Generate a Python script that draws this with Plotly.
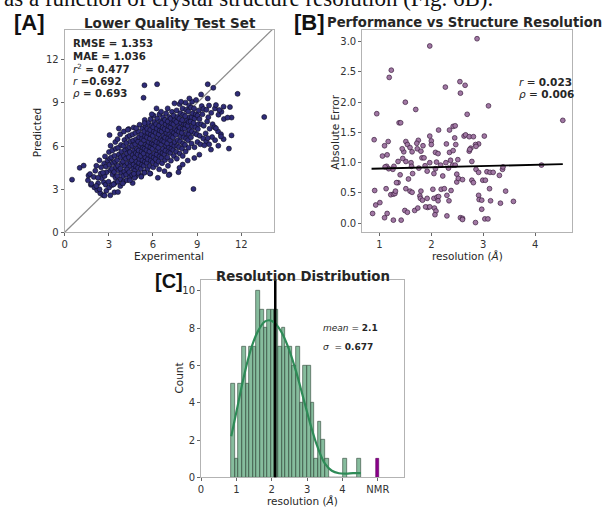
import plotly.graph_objects as go

W, H = 602, 510


def px(x):
    return x / W


def py(y):
    return 1 - y / H


# ---------------- Panel A: Lower Quality Test Set ----------------
a_points = [
    (1.62, 3.95), (1.78, 3.30), (1.72, 4.05), (2.02, 3.12), (2.08, 4.28), (1.98, 3.85), (2.15, 4.62),
    (2.21, 2.92), (2.27, 3.41), (2.42, 2.71), (2.45, 4.08), (2.48, 4.52), (2.36, 5.01), (2.52, 3.75),
    (2.62, 2.58), (2.66, 3.48), (2.71, 3.92), (2.68, 4.79), (2.74, 5.28), (2.83, 2.88), (2.79, 3.31), (2.85, 4.18), (2.81, 4.58), (2.92, 4.98),
    (3.02, 3.12), (2.98, 3.51), (3.11, 4.32), (3.04, 4.69), (3.08, 5.12), (3.01, 5.58), (3.12, 6.02), (3.21, 3.28), (3.25, 4.01), (3.22, 4.41), (3.28, 4.82), (3.17, 5.21), (3.24, 5.69),
    (3.38, 2.78), (3.41, 3.42), (3.45, 3.81), (3.36, 4.19), (3.48, 4.52), (3.42, 4.91), (3.39, 5.32), (3.47, 5.81), (3.44, 6.28), (3.61, 3.51), (3.58, 3.92), (3.65, 4.31), (3.62, 4.63), (3.57, 5.02), (3.68, 5.41), (3.63, 5.88), (3.59, 6.48),
    (3.78, 3.21), (3.82, 3.68), (3.85, 4.12), (3.79, 4.43), (3.88, 4.81), (3.81, 5.22), (3.86, 5.61), (3.83, 6.08), (3.77, 6.82), (4.01, 3.52), (3.98, 3.91), (4.05, 4.22), (4.08, 4.61), (3.96, 4.92), (4.03, 5.31), (4.11, 5.72), (3.99, 6.01), (4.06, 6.42), (4.02, 7.01),
    (4.22, 3.62), (4.18, 4.01), (4.25, 4.38), (4.28, 4.79), (4.16, 5.12), (4.23, 5.48), (4.31, 5.83), (4.19, 6.21), (4.26, 6.62), (4.41, 3.81), (4.38, 4.18), (4.45, 4.62), (4.48, 4.91), (4.36, 5.22), (4.43, 5.58), (4.39, 5.92), (4.47, 6.31), (4.42, 6.72), (4.35, 7.18),
    (4.62, 3.42), (4.58, 3.98), (4.65, 4.41), (4.68, 4.72), (4.56, 5.01), (4.63, 5.38), (4.71, 5.71), (4.59, 6.02), (4.66, 6.38), (4.61, 6.81), (4.69, 7.29), (4.82, 3.88), (4.78, 4.31), (4.85, 4.58), (4.88, 4.92), (4.76, 5.21), (4.83, 5.52), (4.91, 5.81), (4.79, 6.12), (4.86, 6.48), (4.81, 6.91),
    (5.02, 4.11), (4.98, 4.48), (5.05, 4.82), (5.08, 5.11), (4.96, 5.42), (5.03, 5.69), (5.11, 6.02), (4.99, 6.31), (5.06, 6.62), (5.01, 7.02), (5.09, 7.48), (5.21, 3.92), (5.18, 4.41), (5.25, 4.71), (5.28, 5.02), (5.16, 5.31), (5.23, 5.62), (5.31, 5.88), (5.19, 6.18), (5.26, 6.52), (5.21, 6.81), (5.29, 7.22),
    (5.42, 4.18), (5.38, 4.62), (5.45, 4.91), (5.48, 5.22), (5.36, 5.48), (5.43, 5.81), (5.51, 6.12), (5.39, 6.41), (5.46, 6.68), (5.41, 7.02), (5.49, 7.38), (5.44, 7.82), (5.62, 4.41), (5.58, 4.82), (5.65, 5.08), (5.68, 5.41), (5.56, 5.71), (5.63, 6.02), (5.71, 6.28), (5.59, 6.61), (5.66, 6.92), (5.61, 7.21), (5.69, 7.61),
    (5.82, 4.08), (5.78, 4.61), (5.85, 4.98), (5.88, 5.31), (5.76, 5.62), (5.83, 5.91), (5.91, 6.18), (5.79, 6.52), (5.86, 6.81), (5.81, 7.12), (5.89, 7.42), (5.84, 7.88), (6.02, 4.52), (5.98, 4.88), (6.05, 5.22), (6.08, 5.48), (5.96, 5.81), (6.03, 6.12), (6.11, 6.38), (5.99, 6.71), (6.06, 7.02), (6.01, 7.31), (6.09, 7.68), (6.04, 8.12),
    (6.22, 4.71), (6.18, 5.08), (6.25, 5.41), (6.28, 5.72), (6.16, 6.01), (6.23, 6.28), (6.31, 6.61), (6.19, 6.92), (6.26, 7.21), (6.21, 7.52), (6.29, 7.91), (6.42, 4.38), (6.38, 4.92), (6.45, 5.28), (6.48, 5.61), (6.36, 5.88), (6.43, 6.21), (6.51, 6.48), (6.39, 6.82), (6.46, 7.08), (6.41, 7.41), (6.49, 7.72), (6.44, 8.21),
    (6.62, 4.81), (6.58, 5.18), (6.65, 5.52), (6.68, 5.81), (6.56, 6.12), (6.63, 6.38), (6.71, 6.71), (6.59, 7.02), (6.66, 7.28), (6.61, 7.62), (6.69, 8.01), (6.82, 5.02), (6.78, 5.41), (6.85, 5.68), (6.88, 6.02), (6.76, 6.31), (6.83, 6.58), (6.91, 6.92), (6.79, 7.18), (6.86, 7.51), (6.81, 7.82), (6.89, 8.28),
    (7.02, 4.62), (6.98, 5.21), (7.05, 5.58), (7.08, 5.91), (6.96, 6.18), (7.03, 6.52), (7.11, 6.81), (6.99, 7.12), (7.06, 7.38), (7.01, 7.71), (7.09, 8.02), (7.22, 4.98), (7.18, 5.52), (7.25, 5.81), (7.28, 6.12), (7.16, 6.41), (7.23, 6.68), (7.31, 7.02), (7.19, 7.31), (7.26, 7.58), (7.21, 7.92), (7.29, 8.38),
    (7.42, 5.31), (7.38, 5.72), (7.45, 6.02), (7.48, 6.28), (7.36, 6.61), (7.43, 6.92), (7.51, 7.18), (7.39, 7.52), (7.46, 7.81), (7.41, 8.12), (7.62, 5.12), (7.58, 5.61), (7.65, 6.01), (7.68, 6.41), (7.56, 6.78), (7.63, 7.08), (7.71, 7.41), (7.59, 7.68), (7.66, 8.02), (7.61, 8.48),
    (7.82, 5.48), (7.78, 5.92), (7.85, 6.31), (7.88, 6.68), (7.76, 7.01), (7.83, 7.28), (7.91, 7.62), (7.79, 7.91), (7.86, 8.28), (7.81, 8.92), (8.02, 5.31), (7.98, 5.82), (8.05, 6.18), (8.08, 6.61), (7.96, 6.92), (8.03, 7.21), (8.11, 7.52), (7.99, 7.81), (8.06, 8.18), (8.01, 8.62),
    (8.22, 5.62), (8.18, 6.08), (8.25, 6.52), (8.28, 6.88), (8.16, 7.22), (8.23, 7.48), (8.31, 7.81), (8.19, 8.08), (8.26, 8.52), (8.21, 9.02), (8.42, 5.88), (8.38, 6.41), (8.45, 6.82), (8.48, 7.12), (8.36, 7.41), (8.43, 7.68), (8.51, 8.02), (8.39, 8.41), (8.46, 8.81),
    (8.62, 6.18), (8.58, 6.61), (8.65, 7.02), (8.68, 7.38), (8.56, 7.71), (8.63, 8.02), (8.71, 8.28), (8.59, 8.68), (8.66, 9.08), (8.82, 5.92), (8.85, 6.88), (8.88, 7.31), (8.76, 7.61), (8.83, 7.92), (8.91, 8.21), (8.79, 8.62),
    (9.02, 6.28), (8.98, 6.81), (9.05, 7.18), (9.08, 7.52), (9.03, 8.12), (9.11, 8.48), (9.22, 6.12), (9.18, 6.71), (9.28, 7.52), (9.16, 7.88), (9.31, 8.78),
    (9.42, 6.52), (9.45, 7.41), (9.36, 8.21), (9.43, 8.58), (9.62, 6.31), (9.58, 6.88), (9.68, 7.71), (9.63, 8.52),
    (9.82, 6.12), (9.85, 7.21), (9.76, 8.01), (9.81, 8.82), (10.02, 6.62), (10.05, 7.52), (9.96, 8.31),
    (10.22, 6.41), (10.18, 7.31), (10.21, 8.62), (10.42, 7.02), (10.45, 8.18), (10.62, 6.82), (10.65, 8.38), (10.82, 7.88),
    # sparse edge points and outliers
    (5.42, 10.23), (6.28, 10.30), (5.36, 9.36), (9.72, 10.30), (10.10, 10.05), (11.75, 9.63), (13.56, 8.02), (8.75, 3.01),
    (0.50, 3.66), (1.02, 4.48), (1.29, 4.64), (3.05, 6.76), (3.68, 7.22), (6.24, 8.62), (11.34, 7.98), (11.07, 7.98),
    (11.34, 6.74), (11.16, 5.82), (10.80, 6.48), (10.44, 6.02), (10.51, 8.51), (10.80, 8.74), (11.23, 8.71),
    (2.71, 2.55), (3.10, 2.57), (3.62, 2.80), (2.37, 2.99), (4.75, 3.79), (5.42, 4.14), (6.78, 4.25), (7.12, 4.02), (7.80, 4.48),
    (7.07, 3.98), (7.73, 4.18), (6.33, 3.79), (5.79, 4.09), (5.20, 3.86), (4.70, 4.07), (4.43, 3.61), (3.95, 3.40), (3.32, 3.33),
    (9.72, 6.55), (10.28, 7.24), (10.62, 6.67), (9.94, 5.75), (9.49, 6.05), (9.15, 5.40), (8.81, 5.17), (8.36, 4.99), (8.02, 4.71),
    (4.29, 7.13), (4.86, 7.24), (5.42, 7.59), (5.92, 8.21), (6.55, 8.39), (7.00, 8.62), (7.46, 8.97), (7.91, 9.08), (8.47, 9.31),
    (8.93, 9.20), (9.27, 9.59), (9.72, 9.31), (10.28, 8.85), (1.81, 3.38), (2.15, 3.22), (1.58, 3.61), (2.26, 3.79), (2.60, 4.14),
]
a_experimental = [p[0] for p in a_points]
a_predicted = [p[1] for p in a_points]
a_ticks = [0, 3, 6, 9, 12]
a_stats = [
    "<b>RMSE = 1.353</b>",
    "<b>MAE = 1.036</b>",
    "<i>r</i><sup>2</sup><b> = 0.477</b>",
    "<i>r</i><b> =0.692</b>",
    "<i>ρ</i><b> = 0.693</b>",
]

# ---------------- Panel B: Performance vs Structure Resolution ----------------
b_points = [
    (1.97, 2.93), (1.23, 2.53), (1.19, 2.41), (2.27, 2.25), (2.55, 2.34), (2.65, 2.28), (2.56, 2.15), (1.50, 2.00), (0.95, 1.81),
    (1.70, 1.88), (1.38, 1.66), (1.41, 1.66), (2.69, 1.80), (0.90, 1.38), (1.10, 1.28), (1.17, 1.35), (1.06, 1.11), (1.15, 1.13),
    (1.51, 1.35), (1.54, 1.30), (1.59, 1.25), (1.47, 1.18), (1.44, 1.23), (1.63, 1.18), (1.75, 1.37), (1.72, 1.32), (1.73, 1.23),
    (1.80, 1.19), (1.84, 1.28), (1.97, 1.44), (1.82, 1.08), (1.86, 1.08), (2.00, 1.36), (2.00, 1.30), (2.08, 1.17), (2.13, 1.15),
    (2.14, 1.54), (2.29, 1.31), (2.35, 1.54), (2.42, 1.60), (2.46, 1.61), (2.45, 1.41), (2.35, 1.17), (2.42, 1.20), (2.47, 1.30),
    (2.51, 1.05), (2.63, 1.44), (2.66, 1.46), (2.37, 1.04), (2.28, 1.00), (2.18, 0.96), (2.10, 1.01), (1.97, 1.00), (1.88, 0.95),
    (1.61, 1.00), (1.51, 1.02), (1.45, 1.07), (1.36, 1.02), (1.28, 0.94), (1.26, 0.89), (1.14, 0.94), (1.18, 0.90), (1.11, 0.93),
    (1.40, 0.80), (1.56, 0.73), (1.64, 0.82), (1.62, 0.94), (1.76, 0.91), (1.92, 0.86), (2.08, 0.90), (2.05, 0.82), (2.22, 0.78),
    (2.33, 0.91), (2.41, 0.96), (2.49, 0.81), (2.49, 0.68), (2.52, 0.74), (2.46, 0.96), (0.91, 0.54), (1.13, 0.57), (1.22, 0.47),
    (1.27, 0.48), (1.30, 0.49), (1.31, 0.53), (1.36, 0.67), (1.33, 0.67), (1.51, 0.57), (1.59, 0.53), (1.80, 0.53), (1.78, 0.45),
    (1.79, 0.41), (1.83, 0.38), (1.92, 0.41), (1.93, 0.26), (2.03, 0.56), (2.05, 0.41), (2.11, 0.43), (2.14, 0.44), (2.19, 0.56),
    (2.25, 0.57), (2.13, 0.37), (2.30, 0.46), (2.38, 0.54), (2.34, 0.37), (0.93, 0.30), (1.01, 0.34), (0.87, 0.16), (1.10, 0.09),
    (1.15, 0.16), (1.27, 0.05), (1.42, 0.05), (1.49, 0.21), (1.54, 0.18), (1.68, 0.21), (1.74, 0.25), (1.89, 0.27), (1.97, 0.27),
    (2.06, 0.25), (2.09, 0.20), (2.07, 0.14), (2.30, 0.12), (2.56, 0.09), (2.60, 0.08), (1.63, 0.51),
    (2.88, 3.05), (3.10, 1.94), (4.53, 1.70), (2.73, 1.43), (2.81, 1.43), (3.02, 1.44), (2.91, 1.31), (2.85, 1.30), (2.86, 1.27),
    (2.76, 1.24), (2.73, 1.19), (2.74, 1.22), (2.78, 1.02), (2.86, 0.89), (2.91, 0.84), (3.07, 0.85), (3.13, 0.84), (3.19, 0.84),
    (3.31, 0.79), (3.37, 0.89), (3.38, 0.93), (4.12, 0.96), (2.60, 0.72), (2.78, 0.71), (2.81, 0.67), (2.99, 0.71), (3.04, 0.71),
    (3.12, 0.57), (2.91, 0.46), (2.92, 0.39), (2.97, 0.38), (3.14, 0.37), (3.33, 0.33), (3.43, 0.53), (3.58, 0.36), (2.97, 0.23),
    (3.03, 0.07), (3.09, 0.07), (2.85, 0.01), (2.60, 0.06),
]
b_resolution = [p[0] for p in b_points]
b_abs_error = [p[1] for p in b_points]
b_fit_x = [0.85, 4.53]
b_fit_y = [0.90, 0.975]
b_stats = ["<i>r</i> = <b>0.023</b>", "<i>ρ</i> = <b>0.006</b>"]

# ---------------- Panel C: Resolution Distribution ----------------
c_bin_start = 0.855
c_bin_width = 0.1019
c_counts = [5, 1, 5, 7, 5, 7, 7, 10, 9, 8, 9, 9, 9, 7, 8, 7, 7, 6, 7, 4, 6, 6, 4, 1, 3, 2, 1,
            0, 0, 0, 0, 1, 0, 0, 0, 1]
c_kde_x = [0.855, 1.0, 1.2, 1.4, 1.6, 1.8, 1.95, 2.1, 2.3, 2.5, 2.7, 2.9, 3.1, 3.3, 3.5, 3.7, 3.9, 4.1, 4.3, 4.52]
c_kde_y = [2.2, 3.5, 5.3, 6.8, 7.8, 8.35, 8.42, 8.25, 7.7, 6.8, 5.6, 4.2, 2.8, 1.6, 0.75, 0.35, 0.22, 0.2, 0.22, 0.22]
c_mean = 2.1
c_nmr_position = 5
c_nmr_count = 1
c_tick_vals = [0, 1, 2, 3, 4, 5]
c_tick_labels = ["0", "1", "2", "3", "4", "NMR"]
c_stats = ["<i>mean</i> = <b>2.1</b>", "<i>σ</i>  = <b>0.677</b>"]

c_centers = [c_bin_start + (i + 0.5) * c_bin_width for i in range(len(c_counts))]

FONT = "DejaVu Sans"
TXT = "#262626"

fig = go.Figure()

# Panel A
fig.add_trace(go.Scatter(x=[0, 15], y=[0, 15], mode="lines",
                         line=dict(color="#8c8c8c", width=1.2), xaxis="x", yaxis="y", hoverinfo="skip"))
fig.add_trace(go.Scatter(x=a_experimental, y=a_predicted, mode="markers",
                         marker=dict(size=5, color="#2f2c78", line=dict(color="#0c0c1c", width=0.6)),
                         xaxis="x", yaxis="y"))

# Panel B
fig.add_trace(go.Scatter(x=b_resolution, y=b_abs_error, mode="markers",
                         marker=dict(size=4.8, color="#a077a3", line=dict(color="#3b1d3d", width=0.7)),
                         xaxis="x2", yaxis="y2"))
fig.add_trace(go.Scatter(x=b_fit_x, y=b_fit_y, mode="lines",
                         line=dict(color="black", width=1.8), xaxis="x2", yaxis="y2"))

# Panel C
fig.add_trace(go.Bar(x=c_centers, y=c_counts, width=c_bin_width,
                     marker=dict(color="rgba(46,139,87,0.58)", line=dict(color="#44594c", width=0.7)),
                     xaxis="x3", yaxis="y3"))
fig.add_trace(go.Bar(x=[c_nmr_position], y=[c_nmr_count], width=0.09,
                     marker=dict(color="#8b008b", line=dict(color="#5a005a", width=0.6)),
                     xaxis="x3", yaxis="y3"))
fig.add_trace(go.Scatter(x=c_kde_x, y=c_kde_y, mode="lines", line=dict(color="#2e8b57", width=2.2, shape="spline"),
                         xaxis="x3", yaxis="y3"))

axis_common = dict(showline=True, mirror=True, linecolor="#b3b3b3", linewidth=1, ticks="outside",
                   ticklen=3, tickcolor="#666", tickfont=dict(family=FONT, size=10, color="#333"),
                   showgrid=False, zeroline=False, fixedrange=True)

fig.update_layout(
    width=W, height=H, margin=dict(l=0, r=0, t=0, b=0),
    paper_bgcolor="white", plot_bgcolor="white", showlegend=False, bargap=0,
    xaxis=dict(domain=[px(62), px(272)], range=[0, 14.2], tickvals=a_ticks, anchor="y", **axis_common),
    yaxis=dict(domain=[py(235), py(30)], range=[0, 14.1], tickvals=a_ticks, anchor="x", **axis_common),
    xaxis2=dict(domain=[px(361), px(572)], range=[0.67, 4.71], tickvals=[1, 2, 3, 4], anchor="y2", **axis_common),
    yaxis2=dict(domain=[py(235), py(30)], range=[-0.15, 3.2], tickvals=[0, 0.5, 1, 1.5, 2, 2.5, 3],
                tickformat=".1f", anchor="x2", **axis_common),
    xaxis3=dict(domain=[px(199), px(403)], range=[0, 5.74], tickvals=c_tick_vals, ticktext=c_tick_labels,
                anchor="y3", **axis_common),
    yaxis3=dict(domain=[py(483), py(283)], range=[0, 10.6], tickvals=[0, 2, 4, 6, 8, 10], anchor="x3", **axis_common),
)

fig.add_shape(type="line", xref="x3", yref="y3 domain", x0=c_mean, x1=c_mean, y0=0, y1=1,
              line=dict(color="black", width=2.5))

ann = []


def text(x, y, s, size=10, xanchor="center", yanchor="middle", angle=0, family=FONT, color=TXT):
    ann.append(dict(x=px(x), y=py(y), xref="paper", yref="paper", text=s, showarrow=False,
                    xanchor=xanchor, yanchor=yanchor, textangle=angle,
                    font=dict(family=family, size=size, color=color)))


# clipped line of the surrounding document text
text(-1, 13.5, "as a function of crystal structure resolution (Fig. 6B).", size=23, xanchor="left",
     yanchor="bottom", family="Liberation Serif", color="#111")

# panel letters and titles
text(27, 23, "<b>[A]</b>", size=22, family="Liberation Sans", color="#111")
text(308, 23, "<b>[B]</b>", size=22, family="Liberation Sans", color="#111")
text(167, 284, "<b>[C]</b>", size=20, family="Liberation Sans", color="#111")
text(168, 23, "<b>Lower Quality Test Set</b>", size=13.5)
text(464, 23, "<b>Performance vs Structure Resolution</b>", size=13.2)
text(301, 280, "<b>Resolution Distribution</b>", size=13.3)

# axis labels
text(35, 134, "Predicted", size=10.5, angle=-90)
text(167, 259, "Experimental", size=10.5)
text(334, 133, "Absolute Error", size=10.5, angle=-90)
text(467, 259, "resolution (<i>Å</i>)", size=10.5)
text(177, 383, "Count", size=10.5, angle=-90)
text(301, 507, "resolution (<i>Å</i>)", size=10.5)

# stats
for i, s in enumerate(a_stats):
    text(68, 44 + i * 12.7, s, size=10.2, xanchor="left")
for i, s in enumerate(b_stats):
    text(517, 83 + i * 12.5, s, size=10.5, xanchor="left")
for i, s in enumerate(c_stats):
    text(320, 332 + i * 19, s, size=9, xanchor="left")

fig.update_layout(annotations=ann)
fig.write_html("out.html", config={"displayModeBar": False},
               post_script="document.body.style.margin='0';document.body.style.overflow='hidden';")
